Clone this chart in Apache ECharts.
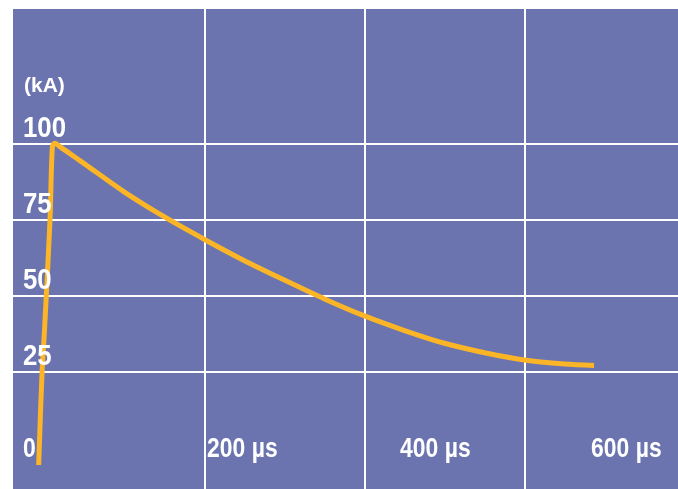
<!DOCTYPE html>
<html>
<head>
<meta charset="utf-8">
<script src="https://cdn.jsdelivr.net/npm/echarts@6/dist/echarts.min.js"></script>
<style>
  html, body { margin: 0; padding: 0; background: #ffffff; }
  #chart { width: 678px; height: 489px; }
</style>
</head>
<body>
<div id="chart"></div>
<script>
// Time (µs) of each sampled point of the 10/350 µs current wave
const timeUs = [-7.3, -3.1, 0, 6.9, 9.8, 13, 20, 30, 50, 100, 150, 200, 250, 300, 350, 400, 450, 500, 550, 600, 650, 687];
// Current (kA) at each sampled time
const currentKA = [-5.8, 24.7, 38.7, 75.2, 99.0, 100.2, 98.9, 97.1, 93.4, 84.1, 75.9, 68.5, 61.5, 55.1, 48.9, 43.3, 38.5, 34.3, 31.2, 28.8, 27.5, 27.0];
// Gridline values
const yGridValues = [25, 50, 75, 100];
const xGridValues = [200, 400, 600];
// Tick labels
const yTickLabels = ['25', '50', '75', '100'];
const xTickLabels = ['0', '200 µs', '400 µs', '600 µs'];
const yUnitLabel = '(kA)';

const FONT = '"Liberation Sans", Arial, sans-serif';
const chart = echarts.init(document.getElementById('chart'), null, { renderer: 'canvas' });

const xLabelLeft = [23, 207, 400, 591];

const option = {
  animation: false,
  backgroundColor: '#ffffff',
  grid: {
    left: 13, top: 9, right: 0, bottom: 0,
    show: true, backgroundColor: '#6B74AF', borderWidth: 0,
    outerBoundsMode: 'none'
  },
  xAxis: {
    type: 'value', min: -39.4, max: 791.9,
    axisLine: { show: false }, axisTick: { show: false },
    axisLabel: { show: false }, splitLine: { show: false }
  },
  yAxis: {
    type: 'value', min: -13.7, max: 144.4,
    axisLine: { show: false }, axisTick: { show: false },
    splitLine: { show: false }, axisLabel: { show: false }
  },
  series: [
    {
      type: 'line', data: [], z: 1, silent: true,
      markLine: {
        silent: true, symbol: 'none', label: { show: false },
        lineStyle: { color: '#ffffff', width: 2, type: 'solid', opacity: 1 },
        emphasis: { disabled: true },
        data: yGridValues.map(function (v) { return { yAxis: v }; })
          .concat(xGridValues.map(function (v) { return { xAxis: v }; }))
      }
    },
    {
      type: 'line', z: 5, showSymbol: false, symbol: 'none',
      smooth: 0.3,
      data: timeUs.map(function (t, i) { return [t, currentKA[i]]; }),
      lineStyle: { color: '#FBB527', width: 5, join: 'round', cap: 'butt' }
    }
  ]
};
chart.setOption(option);

// Text labels: y tick labels placed from the axis scale, x labels at their drawn spots
const texts = [];
yGridValues.forEach(function (v, i) {
  const py = chart.convertToPixel({ yAxisIndex: 0 }, v);
  texts.push({
    type: 'text', x: 23, y: py - 15, scaleX: 0.89, z: 10, silent: true,
    style: { text: yTickLabels[i], fill: '#ffffff', font: 'bold 29px ' + FONT, align: 'left', verticalAlign: 'middle' }
  });
});
xTickLabels.forEach(function (t, i) {
  texts.push({
    type: 'text', x: xLabelLeft[i], y: 450, scaleX: 0.85, z: 10, silent: true,
    style: { text: t, fill: '#ffffff', font: 'bold 27px ' + FONT, align: 'left', verticalAlign: 'middle' }
  });
});
texts.push({
  type: 'text', x: 24, y: 86, z: 10, silent: true,
  style: { text: yUnitLabel, fill: '#ffffff', font: 'bold 21px ' + FONT, align: 'left', verticalAlign: 'middle' }
});
chart.setOption({ graphic: texts });
</script>
</body>
</html>
